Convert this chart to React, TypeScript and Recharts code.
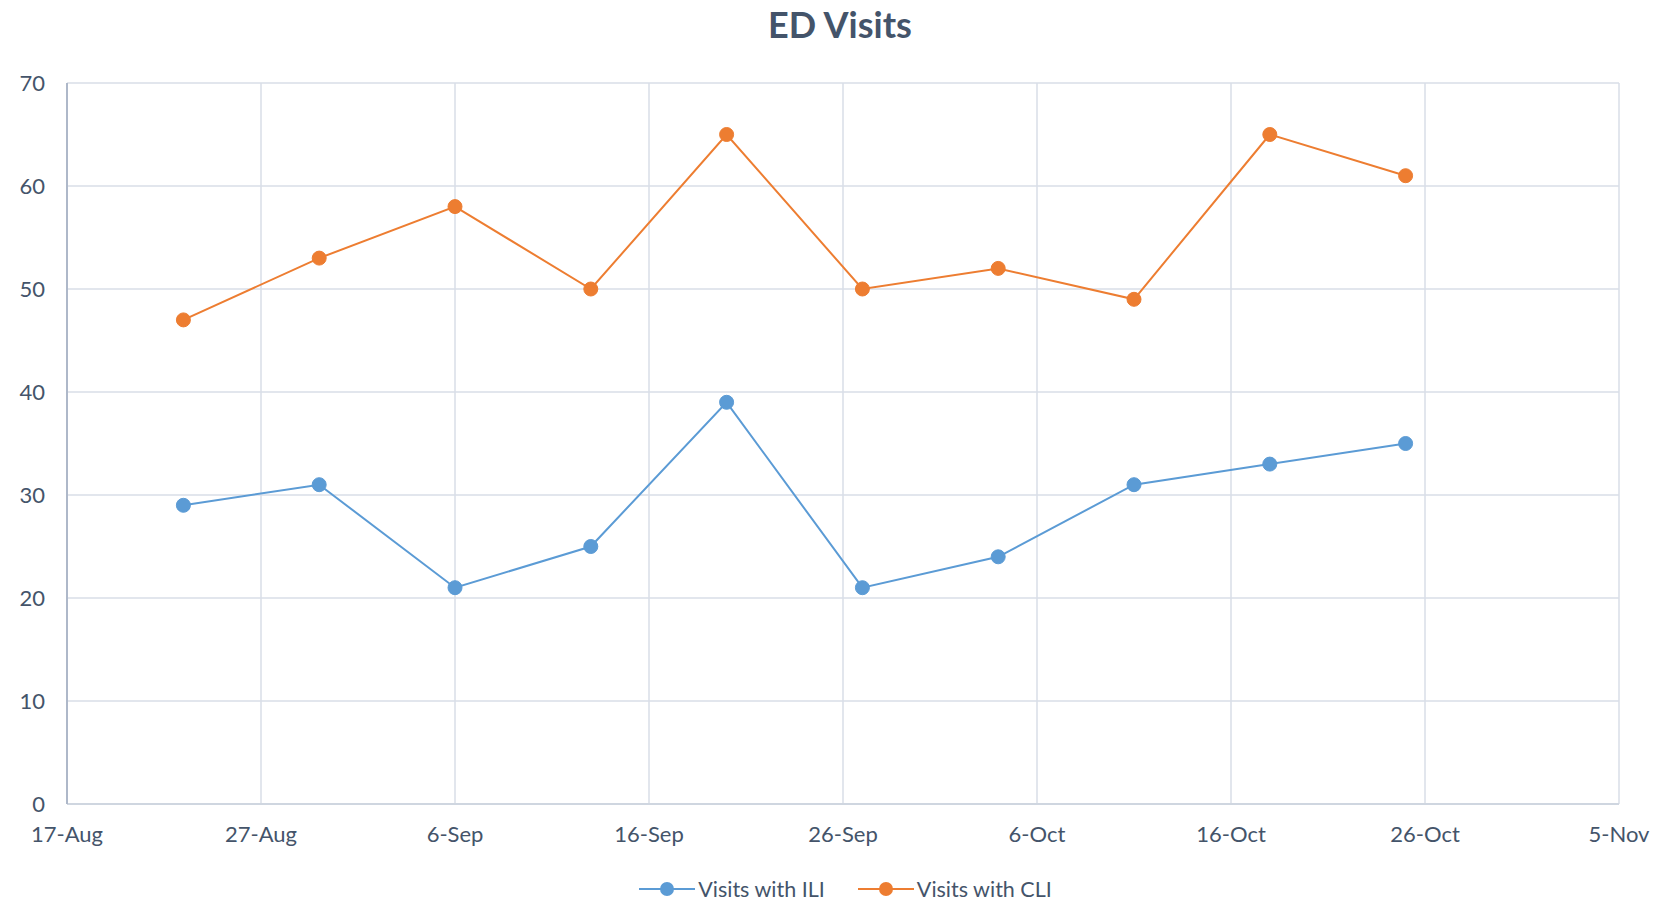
import React from "react";
import { LineChart, Line, XAxis, YAxis, CartesianGrid, Legend } from "recharts";

const visitDates = ["2020-08-23", "2020-08-30", "2020-09-06", "2020-09-13", "2020-09-20", "2020-09-27", "2020-10-04", "2020-10-11", "2020-10-18", "2020-10-25"];
const iliVisits = [29, 31, 21, 25, 39, 21, 24, 31, 33, 35];
const cliVisits = [47, 53, 58, 50, 65, 50, 52, 49, 65, 61];
const xTickDates = ["2020-08-17", "2020-08-27", "2020-09-06", "2020-09-16", "2020-09-26", "2020-10-06", "2020-10-16", "2020-10-26", "2020-11-05"];
const yTicks = [0, 10, 20, 30, 40, 50, 60, 70];

const MONTHS = ["Jan", "Feb", "Mar", "Apr", "May", "Jun", "Jul", "Aug", "Sep", "Oct", "Nov", "Dec"];
const toTs = (s: string) => Date.parse(s + "T00:00:00Z");
const fmt = (t: number) => {
  const d = new Date(t);
  return `${d.getUTCDate()}-${MONTHS[d.getUTCMonth()]}`;
};

const data = visitDates.map((d, i) => ({ date: toTs(d), ili: iliVisits[i], cli: cliVisits[i] }));
const xTicks = xTickDates.map(toTs);

const TEXT = "#44546a";
const FONT = "Lato, 'Open Sans', sans-serif";
const ILI = "#5b9bd5";
const CLI = "#ed7d31";

const LegendContent = () => {
  const items = [
    { name: "Visits with ILI", color: ILI },
    { name: "Visits with CLI", color: CLI },
  ];
  return (
    <div style={{ display: "flex", justifyContent: "center", gap: 33, fontFamily: FONT, fontSize: 21.5, color: TEXT, paddingLeft: 18 }}>
      {items.map((it) => (
        <div key={it.name} style={{ display: "flex", alignItems: "center" }}>
          <svg width={56} height={16} style={{ marginRight: 3 }}>
            <line x1={0} y1={8} x2={56} y2={8} stroke={it.color} strokeWidth={2} />
            <circle cx={28} cy={8} r={7} fill={it.color} />
          </svg>
          <span>{it.name}</span>
        </div>
      ))}
    </div>
  );
};

export default function App() {
  return (
    <div style={{ position: "absolute", left: 0, top: 0, width: 1673, height: 900, background: "#fff" }}>
      <div
        style={{
          position: "absolute",
          left: 0,
          width: 1680,
          top: 2,
          textAlign: "center",
          fontFamily: FONT,
          fontWeight: 700,
          fontSize: 36,
          color: TEXT,
        }}
      >
        ED Visits
      </div>
      <LineChart width={1673} height={900} data={data} margin={{ top: 83, right: 54, left: 0, bottom: 0 }}>
        <CartesianGrid stroke="#d9dee7" strokeWidth={1.5} vertical={true} horizontal={true} />
        <XAxis
          dataKey="date"
          type="number"
          scale="time"
          domain={[xTicks[0], xTicks[xTicks.length - 1]]}
          ticks={xTicks}
          tickFormatter={fmt}
          tickLine={false}
          tickSize={0}
          tickMargin={22}
          height={70}
          axisLine={{ stroke: "#cfd6e0", strokeWidth: 2 }}
          tick={{ fill: TEXT, fontSize: 22, fontFamily: FONT }}
          interval={0}
        />
        <YAxis
          domain={[0, 70]}
          ticks={yTicks}
          tickLine={false}
          tickSize={0}
          tickMargin={22}
          width={67}
          axisLine={{ stroke: "#aeb8c9", strokeWidth: 2 }}
          tick={{ fill: TEXT, fontSize: 22, fontFamily: FONT }}
          interval={0}
        />
        <Legend
          verticalAlign="bottom"
          content={<LegendContent />}
          wrapperStyle={{ position: "absolute", top: 876, left: 0, width: 1673, bottom: "auto" }}
        />
        <Line
          dataKey="ili"
          name="Visits with ILI"
          stroke={ILI}
          strokeWidth={2}
          dot={{ r: 7, fill: ILI, stroke: ILI, strokeWidth: 1 }}
          isAnimationActive={false}
        />
        <Line
          dataKey="cli"
          name="Visits with CLI"
          stroke={CLI}
          strokeWidth={2}
          dot={{ r: 7, fill: CLI, stroke: CLI, strokeWidth: 1 }}
          isAnimationActive={false}
        />
      </LineChart>
    </div>
  );
}
